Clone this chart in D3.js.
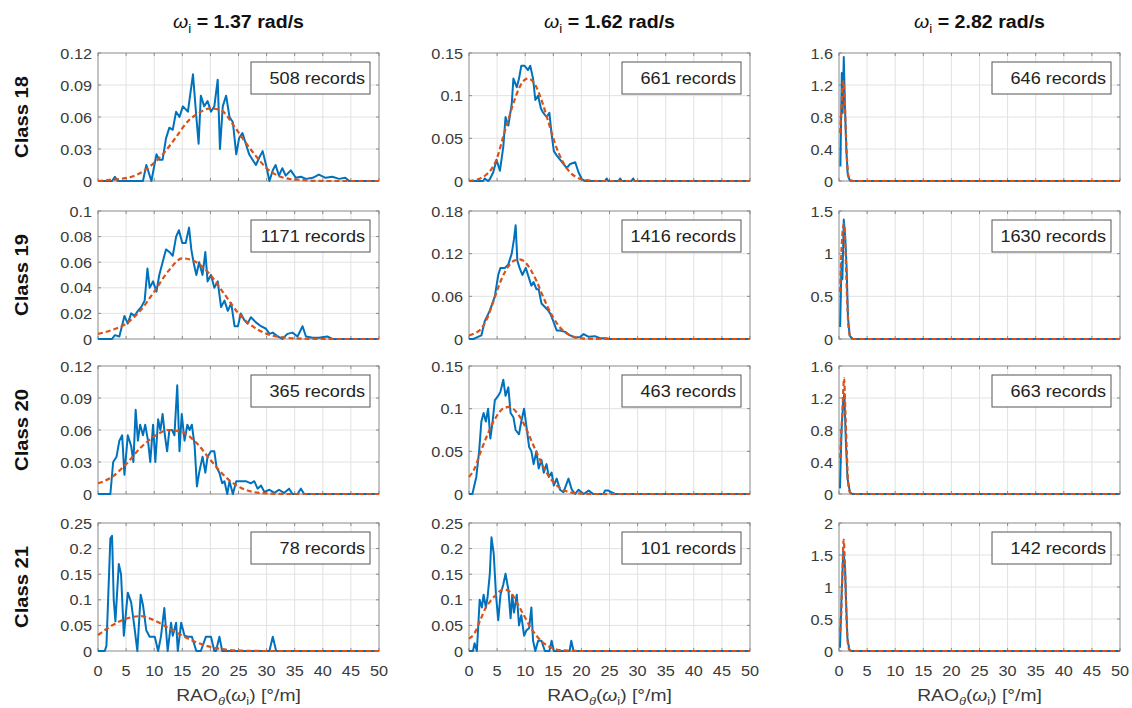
<!DOCTYPE html>
<html>
<head>
<meta charset="utf-8">
<script src="https://cdn.jsdelivr.net/npm/d3@7"></script>
<style>
  html, body { margin: 0; padding: 0; background: #fff; }
  text { font-family: "Liberation Sans", Arial, Helvetica, sans-serif; }
</style>
</head>
<body>
<svg id="chart" width="1132" height="708"></svg>
<script>
// ---------------- DATA ----------------
const frequencies = ["1.37", "1.62", "2.82"];
const classLabels = ["Class 18", "Class 19", "Class 20", "Class 21"];
const recordCounts = [
  [508, 661, 646],
  [1171, 1416, 1630],
  [365, 463, 663],
  [78, 101, 142]
];
const yMaxes = [
  [0.12, 0.15, 1.6],
  [0.1, 0.18, 1.5],
  [0.12, 0.15, 1.6],
  [0.25, 0.25, 2]
];
const yTickValues = [
  [[0, 0.03, 0.06, 0.09, 0.12], [0, 0.05, 0.1, 0.15], [0, 0.4, 0.8, 1.2, 1.6]],
  [[0, 0.02, 0.04, 0.06, 0.08, 0.1], [0, 0.06, 0.12, 0.18], [0, 0.5, 1, 1.5]],
  [[0, 0.03, 0.06, 0.09, 0.12], [0, 0.05, 0.1, 0.15], [0, 0.4, 0.8, 1.2, 1.6]],
  [[0, 0.05, 0.1, 0.15, 0.2, 0.25], [0, 0.05, 0.1, 0.15, 0.2, 0.25], [0, 0.5, 1, 1.5, 2]]
];
const xTickValues = [0, 5, 10, 15, 20, 25, 30, 35, 40, 45, 50];

// empirical PDF (blue) and fitted PDF (orange dashed), [RAO, density]
const emp_c18_w137 = [[0,0],[2.5,0],[3,0.004],[3.5,0],[8,0],[8.6,0.015],[9.5,0],[10.4,0.025],[10.9,0.02],[11.5,0.02],[12.1,0.04],[12.7,0.05],[13.3,0.048],[13.9,0.065],[14.5,0.06],[15.1,0.07],[16,0.065],[16.9,0.1],[17.5,0.06],[17.9,0.035],[18.3,0.08],[18.9,0.07],[19.5,0.075],[20.1,0.065],[20.7,0.07],[21.3,0.095],[21.7,0.03],[22.2,0.07],[22.8,0.08],[23.4,0.06],[24,0.055],[24.6,0.025],[25.1,0.04],[25.7,0.045],[26.3,0.035],[26.9,0.025],[27.5,0.02],[28.1,0.015],[28.7,0.022],[29.3,0.028],[29.9,0.015],[30.5,0],[31.1,0.01],[31.6,0.015],[32.2,0.005],[32.8,0.012],[33.4,0.005],[34.3,0.01],[35.2,0.003],[36.1,0.004],[37,0.002],[38.2,0.003],[39.3,0.006],[40.5,0.003],[41.7,0.004],[42.9,0.002],[44,0.003],[44.7,0],[50,0]];
const fit_c18_w137 = [[0,0],[2,0.001],[4,0.002],[6,0.004],[8,0.009],[10,0.017],[12,0.028],[14,0.042],[16,0.056],[18,0.064],[20,0.068],[22,0.066],[24,0.053],[26,0.038],[28,0.024],[30,0.012],[32,0.005],[34,0.002],[36,0.001],[40,0],[50,0]];

const emp_c18_w162 = [[0,0],[2.5,0],[2.8,0.003],[3.4,0],[3.7,0.002],[4.3,0.01],[4.9,0.025],[5.5,0.012],[6.1,0.04],[6.5,0.075],[7,0.065],[7.6,0.09],[7.9,0.12],[8.5,0.11],[8.9,0.12],[9.3,0.135],[9.9,0.135],[10.5,0.13],[10.9,0.135],[11.4,0.12],[11.8,0.095],[12.3,0.1],[12.8,0.085],[13.2,0.08],[13.8,0.075],[14.3,0.08],[14.7,0.055],[15.1,0.035],[15.6,0.03],[16.2,0.025],[16.8,0.02],[17.4,0.015],[18,0.02],[18.9,0.022],[19.5,0.01],[20.1,0.002],[20.7,0],[24.2,0],[24.5,0.003],[24.8,0],[26.6,0],[26.9,0.003],[27.2,0],[28.9,0],[29.2,0.003],[29.5,0],[50,0]];
const fit_c18_w162 = [[0,0],[1,0.001],[2,0.003],[3,0.007],[4,0.014],[5,0.027],[6,0.05],[7,0.072],[8,0.093],[9,0.11],[10,0.119],[10.5,0.12],[11,0.119],[12,0.11],[13,0.093],[14,0.072],[15,0.05],[16,0.032],[17,0.019],[18,0.01],[19,0.005],[20,0.002],[21,0.001],[23,0],[50,0]];

const emp_c18_w282 = [[0.25,0.18],[0.5,1.35],[0.65,0.85],[0.85,1.55],[1.05,0.95],[1.3,0.4],[1.55,0.08],[1.9,0.01],[2.5,0],[50,0]];
const fit_c18_w282 = [[0.2,0.6],[0.4,0.85],[0.6,1.15],[0.8,1.25],[1.0,1.05],[1.2,0.65],[1.4,0.3],[1.6,0.1],[1.8,0.03],[2.1,0.005],[2.5,0],[50,0]];

const emp_c19_w137 = [[0,0],[2.5,0],[3,0.003],[3.8,0.002],[4.7,0.018],[5.3,0.012],[5.9,0.02],[6.5,0.018],[7.1,0.022],[7.7,0.025],[8.3,0.03],[8.8,0.055],[9.2,0.04],[9.8,0.045],[10.4,0.037],[10.9,0.05],[11.5,0.06],[12.1,0.07],[12.7,0.068],[13.3,0.065],[13.9,0.08],[14.4,0.085],[15,0.075],[15.6,0.075],[16.2,0.087],[16.6,0.07],[17,0.06],[17.5,0.05],[18,0.06],[18.6,0.05],[19.1,0.068],[19.5,0.045],[20.1,0.05],[20.7,0.04],[21.3,0.045],[21.9,0.025],[22.5,0.03],[23.1,0.022],[23.7,0.028],[24.3,0.01],[24.9,0.01],[25.4,0.02],[26,0.015],[26.6,0.012],[27.2,0.017],[28.1,0.013],[29,0.01],[29.9,0.008],[30.5,0.004],[31.1,0.005],[32,0.002],[32.8,0],[33.7,0.004],[34.6,0.005],[35.5,0.002],[36.4,0.01],[37,0.002],[38.2,0.001],[39.3,0.001],[40.8,0.002],[41.7,0],[50,0]];
const fit_c19_w137 = [[0,0.004],[2.5,0.007],[5,0.012],[7.5,0.022],[10,0.037],[12.5,0.053],[15,0.063],[17.5,0.06],[20,0.05],[22.5,0.035],[25,0.02],[27.5,0.01],[30,0.004],[32.5,0.0015],[35,0.0005],[40,0],[50,0]];

const emp_c19_w162 = [[0,0],[0.8,0],[1.3,0.002],[2.2,0.005],[2.8,0.025],[3.7,0.04],[4.6,0.06],[5.2,0.09],[5.6,0.1],[6.4,0.1],[7,0.105],[7.6,0.12],[8,0.14],[8.3,0.16],[8.6,0.11],[9,0.1],[9.5,0.09],[10.1,0.1],[10.5,0.09],[11.1,0.075],[11.5,0.08],[12,0.07],[12.4,0.07],[12.9,0.05],[13.5,0.045],[14.1,0.04],[14.5,0.035],[15,0.025],[15.6,0.012],[16.2,0.012],[17.1,0.01],[18,0.005],[18.9,0.002],[19.8,0.003],[20.4,0.007],[21.3,0.003],[22.4,0.004],[23.3,0.001],[24.5,0.001],[25,0],[50,0]];
const fit_c19_w162 = [[0,0.005],[1,0.008],[2,0.013],[3,0.025],[4,0.045],[5,0.068],[6,0.088],[7,0.102],[8,0.11],[9,0.112],[10,0.108],[11,0.097],[12,0.082],[13,0.063],[14,0.045],[15,0.03],[16,0.018],[17,0.01],[18,0.005],[20,0.001],[23,0],[50,0]];

const emp_c19_w282 = [[0.2,0.14],[0.45,0.9],[0.6,0.7],[0.85,1.4],[1.1,1.2],[1.35,0.85],[1.6,0.25],[1.9,0.04],[2.4,0],[50,0]];
const fit_c19_w282 = [[0.2,0.55],[0.45,1.05],[0.7,1.3],[0.9,1.35],[1.15,1.05],[1.4,0.55],[1.65,0.18],[1.9,0.05],[2.2,0.01],[2.6,0],[50,0]];

const emp_c20_w137 = [[0,0],[2.2,0],[2.7,0.03],[3.3,0.035],[3.8,0.05],[4.3,0.055],[4.7,0.018],[5.3,0.055],[5.9,0.045],[6.3,0.03],[6.7,0.079],[7.1,0.05],[7.5,0.065],[8,0.055],[8.4,0.065],[8.9,0.05],[9.3,0.03],[9.8,0.065],[10.2,0.03],[10.7,0.07],[11.1,0.06],[11.5,0.075],[11.9,0.055],[12.3,0.04],[12.7,0.06],[13.2,0.06],[13.6,0.055],[14.1,0.102],[14.5,0.04],[14.9,0.075],[15.4,0.05],[15.9,0.065],[16.3,0.06],[16.7,0.065],[17.2,0.045],[17.6,0.007],[18,0.02],[18.6,0.035],[19.1,0.02],[19.5,0.035],[20.1,0.04],[20.7,0.04],[21.1,0.025],[21.6,0.02],[22.1,0.01],[22.5,0.012],[23,0],[23.4,0.012],[24,0],[24.6,0.012],[25.4,0.012],[26.3,0.012],[27.2,0.01],[27.8,0.012],[28.4,0.005],[29,0.008],[29.6,0.002],[30.5,0.004],[31.4,0.001],[32.2,0.004],[33.1,0.001],[34,0.005],[34.6,0],[35.5,0],[36.1,0.005],[36.7,0],[50,0]];
const fit_c20_w137 = [[0,0.01],[2.5,0.016],[5,0.028],[7.5,0.043],[10,0.054],[12.5,0.06],[15,0.058],[17.5,0.048],[20,0.032],[22.5,0.017],[25,0.007],[27.5,0.002],[30,0.0005],[33,0],[50,0]];

const emp_c20_w162 = [[0,0],[0.6,0],[1.3,0.02],[1.8,0.05],[2.2,0.085],[2.6,0.095],[3,0.085],[3.4,0.1],[3.8,0.065],[4.2,0.085],[4.6,0.11],[5.2,0.115],[5.6,0.12],[6.1,0.134],[6.5,0.115],[7,0.125],[7.4,0.095],[7.9,0.09],[8.3,0.075],[8.9,0.07],[9.3,0.085],[9.8,0.1],[10.2,0.08],[10.7,0.055],[11.1,0.05],[11.5,0.035],[12,0.05],[12.4,0.03],[12.9,0.04],[13.3,0.025],[13.8,0.035],[14.2,0.02],[14.7,0.025],[15.1,0.01],[15.6,0.018],[16.2,0.005],[16.8,0.002],[17.7,0.018],[18.3,0.005],[18.9,0],[19.5,0.005],[20.4,0],[21.3,0.004],[22.1,0],[23.9,0],[24.2,0.004],[24.8,0.004],[25.4,0.002],[26,0],[50,0]];
const fit_c20_w162 = [[0,0.02],[1,0.03],[2,0.048],[3,0.065],[4,0.08],[5,0.092],[6,0.1],[7,0.102],[8,0.099],[9,0.091],[10,0.079],[11,0.064],[12,0.049],[13,0.035],[14,0.023],[15,0.014],[16,0.008],[17,0.004],[18,0.002],[20,0.0005],[22,0],[50,0]];

const emp_c20_w282 = [[0.18,0.07],[0.45,0.8],[0.75,1.17],[0.95,1.25],[1.2,0.7],[1.5,0.2],[1.95,0.02],[2.4,0],[50,0]];
const fit_c20_w282 = [[0.2,0.45],[0.4,0.75],[0.65,1.1],[0.9,1.45],[1.15,1.0],[1.4,0.5],[1.65,0.12],[1.95,0.02],[2.3,0],[50,0]];

const emp_c21_w137 = [[0,0],[1.2,0],[1.5,0.01],[2.2,0.22],[2.5,0.225],[2.8,0.1],[3.1,0.058],[3.7,0.17],[4.1,0.15],[4.6,0.03],[5.3,0.114],[5.9,0.095],[6.5,0.045],[7,0],[7.6,0.11],[8,0.09],[8.6,0.04],[9.2,0.028],[10.1,0.028],[10.7,0],[11.2,0.028],[11.8,0.084],[12.4,0],[13,0.055],[13.3,0.03],[13.9,0.055],[14.2,0],[14.8,0.055],[15.4,0.03],[16,0.028],[16.7,0.028],[17.5,0],[18.3,0],[19.2,0.028],[20.1,0.028],[20.7,0],[21,0],[21.6,0.028],[22.1,0],[30.5,0],[31.1,0.028],[31.7,0],[50,0]];
const fit_c21_w137 = [[0,0.031],[2.5,0.05],[5,0.063],[7.5,0.068],[10,0.06],[12.5,0.045],[15,0.03],[17.5,0.017],[20,0.008],[22.5,0.003],[25,0.001],[30,0],[50,0]];

const emp_c21_w162 = [[0,0],[0.7,0],[1,0.015],[1.4,0],[1.9,0.1],[2.3,0.085],[2.6,0.11],[3,0.085],[3.3,0.105],[3.7,0.15],[4,0.222],[4.4,0.19],[4.8,0.11],[5.2,0.06],[5.6,0.11],[6.1,0.13],[6.5,0.151],[7,0.12],[7.4,0.064],[7.7,0.11],[8,0.075],[8.5,0.11],[8.9,0.05],[9.3,0.07],[9.8,0.03],[10.2,0.04],[10.7,0.045],[11.1,0.085],[11.4,0.02],[11.8,0],[12.3,0.02],[12.9,0.02],[13.5,0],[14.3,0],[14.7,0.02],[15.1,0],[17.9,0],[18.2,0.02],[18.6,0],[50,0]];
const fit_c21_w162 = [[0,0.024],[1,0.035],[2,0.06],[3,0.085],[4,0.1],[5,0.112],[6,0.12],[7,0.118],[8,0.105],[9,0.085],[10,0.065],[11,0.045],[12,0.03],[13,0.018],[14,0.01],[15,0.005],[16,0.002],[18,0.0005],[20,0],[50,0]];

const emp_c21_w282 = [[0.18,0.05],[0.47,0.9],[0.77,1.56],[1.07,1.3],[1.25,0.8],[1.5,0.2],[1.84,0.02],[2.2,0],[50,0]];
const fit_c21_w282 = [[0.2,0.3],[0.36,0.5],[0.6,1.2],[0.83,1.74],[1.07,1.3],[1.3,0.6],[1.54,0.15],[1.84,0.02],[2.2,0],[50,0]];

const empiricalSeries = [
  [emp_c18_w137, emp_c18_w162, emp_c18_w282],
  [emp_c19_w137, emp_c19_w162, emp_c19_w282],
  [emp_c20_w137, emp_c20_w162, emp_c20_w282],
  [emp_c21_w137, emp_c21_w162, emp_c21_w282]
];
const fittedSeries = [
  [fit_c18_w137, fit_c18_w162, fit_c18_w282],
  [fit_c19_w137, fit_c19_w162, fit_c19_w282],
  [fit_c20_w137, fit_c20_w162, fit_c20_w282],
  [fit_c21_w137, fit_c21_w162, fit_c21_w282]
];

// ---------------- LAYOUT ----------------
const colLeft = [98, 469, 839];
const rowTop = [53, 211, 366, 523];
const plotW = 281, plotH = 128;
const BLUE = "#0072BD", ORANGE = "#D95319";
const AXIS = "#8a8a8a", GRID = "#e2e2e2", LABEL = "#3a3a3a";

const svg = d3.select("#chart");

// stretched text helper (reference font renders wider than Arial)
function stext(parent, x, y, sx, rotate) {
  const g = parent.append("g")
    .attr("transform", `translate(${x},${y})` + (rotate ? ` rotate(${rotate})` : "") + ` scale(${sx},1)`);
  return g.append("text").attr("x", 0).attr("y", 0);
}

const xScaleBase = d3.scaleLinear().domain([0, 50]);

for (let r = 0; r < 4; r++) {
  for (let c = 0; c < 3; c++) {
    const left = colLeft[c], top = rowTop[r];
    const x = xScaleBase.copy().range([left, left + plotW]);
    const y = d3.scaleLinear().domain([0, yMaxes[r][c]]).range([top + plotH, top]);
    const g = svg.append("g");

    // grid
    g.append("g").selectAll("line").data(xTickValues.slice(1, -1)).join("line")
      .attr("x1", d => x(d)).attr("x2", d => x(d))
      .attr("y1", top).attr("y2", top + plotH)
      .attr("stroke", GRID).attr("stroke-width", 1);
    g.append("g").selectAll("line").data(yTickValues[r][c].slice(1, -1)).join("line")
      .attr("y1", d => y(d)).attr("y2", d => y(d))
      .attr("x1", left).attr("x2", left + plotW)
      .attr("stroke", GRID).attr("stroke-width", 1);

    // box
    g.append("rect").attr("x", left).attr("y", top).attr("width", plotW).attr("height", plotH)
      .attr("fill", "none").attr("stroke", AXIS).attr("stroke-width", 1);

    // inner ticks on all four sides
    const tk = 3;
    g.append("g").selectAll("line").data(xTickValues).join("line")
      .attr("x1", d => x(d)).attr("x2", d => x(d))
      .attr("y1", top + plotH).attr("y2", top + plotH - tk)
      .attr("stroke", AXIS);
    g.append("g").selectAll("line").data(xTickValues).join("line")
      .attr("x1", d => x(d)).attr("x2", d => x(d))
      .attr("y1", top).attr("y2", top + tk)
      .attr("stroke", AXIS);
    g.append("g").selectAll("line").data(yTickValues[r][c]).join("line")
      .attr("y1", d => y(d)).attr("y2", d => y(d))
      .attr("x1", left).attr("x2", left + tk)
      .attr("stroke", AXIS);
    g.append("g").selectAll("line").data(yTickValues[r][c]).join("line")
      .attr("y1", d => y(d)).attr("y2", d => y(d))
      .attr("x1", left + plotW).attr("x2", left + plotW - tk)
      .attr("stroke", AXIS);

    // y tick labels
    yTickValues[r][c].forEach(v => {
      stext(g, left - 6, y(v), 1.05)
        .attr("text-anchor", "end").attr("dy", "0.36em")
        .attr("font-size", 15.5).attr("fill", LABEL)
        .text(d3.format("~g")(v));
    });

    // x tick labels (bottom row)
    if (r === 3) {
      xTickValues.forEach(v => {
        stext(g, x(v), top + plotH + 25, 1.05)
          .attr("text-anchor", "middle")
          .attr("font-size", 15.5).attr("fill", LABEL)
          .text(v);
      });
      const xl = stext(g, left + plotW / 2, 701, 1.17)
        .attr("text-anchor", "middle").attr("font-size", 16.5).attr("fill", LABEL);
      xl.append("tspan").text("RAO");
      xl.append("tspan").attr("dy", 4).attr("font-size", 11).attr("font-style", "italic").text("θ");
      xl.append("tspan").attr("dy", -4).text("(");
      xl.append("tspan").attr("font-style", "italic").text("ω");
      xl.append("tspan").attr("dy", 4).attr("font-size", 11).text("i");
      xl.append("tspan").attr("dy", -4).text(") [°/m]");
    }

    // lines
    const empLine = d3.line().x(d => x(d[0])).y(d => y(d[1]));
    const fitLine = d3.line().x(d => x(d[0])).y(d => y(d[1])).curve(d3.curveMonotoneX);
    g.append("path").datum(empiricalSeries[r][c])
      .attr("d", empLine).attr("fill", "none")
      .attr("stroke", BLUE).attr("stroke-width", 2).attr("stroke-linejoin", "round");
    g.append("path").datum(fittedSeries[r][c])
      .attr("d", fitLine).attr("fill", "none")
      .attr("stroke", ORANGE).attr("stroke-width", 2.2).attr("stroke-dasharray", "5,3");

    // records box
    const bw = 119, bh = 32;
    const bx = left + plotW - 9 - bw, by = top + 9;
    g.append("rect").attr("x", bx).attr("y", by).attr("width", bw).attr("height", bh)
      .attr("fill", "#fff").attr("stroke", "#555").attr("stroke-width", 1);
    stext(g, bx + bw - 5, by + 22, 1.13)
      .attr("text-anchor", "end").attr("font-size", 16).attr("fill", "#222")
      .text(`${recordCounts[r][c]} records`);
  }
}

// column titles
frequencies.forEach((f, c) => {
  const t = stext(svg, colLeft[c] + plotW / 2, 28, 1.12)
    .attr("text-anchor", "middle").attr("font-size", 17.5).attr("font-weight", "bold").attr("fill", "#111");
  t.append("tspan").attr("font-style", "italic").attr("font-weight", "normal").text("ω");
  t.append("tspan").attr("dy", 5).attr("font-size", 12).attr("font-weight", "normal").text("i");
  t.append("tspan").attr("dy", -5).text(` = ${f} rad/s`);
});

// row labels
classLabels.forEach((lab, r) => {
  stext(svg, 28, rowTop[r] + plotH / 2, 1.12, -90)
    .attr("text-anchor", "middle").attr("font-size", 18).attr("font-weight", "bold").attr("fill", "#111")
    .text(lab);
});
</script>
</body>
</html>
